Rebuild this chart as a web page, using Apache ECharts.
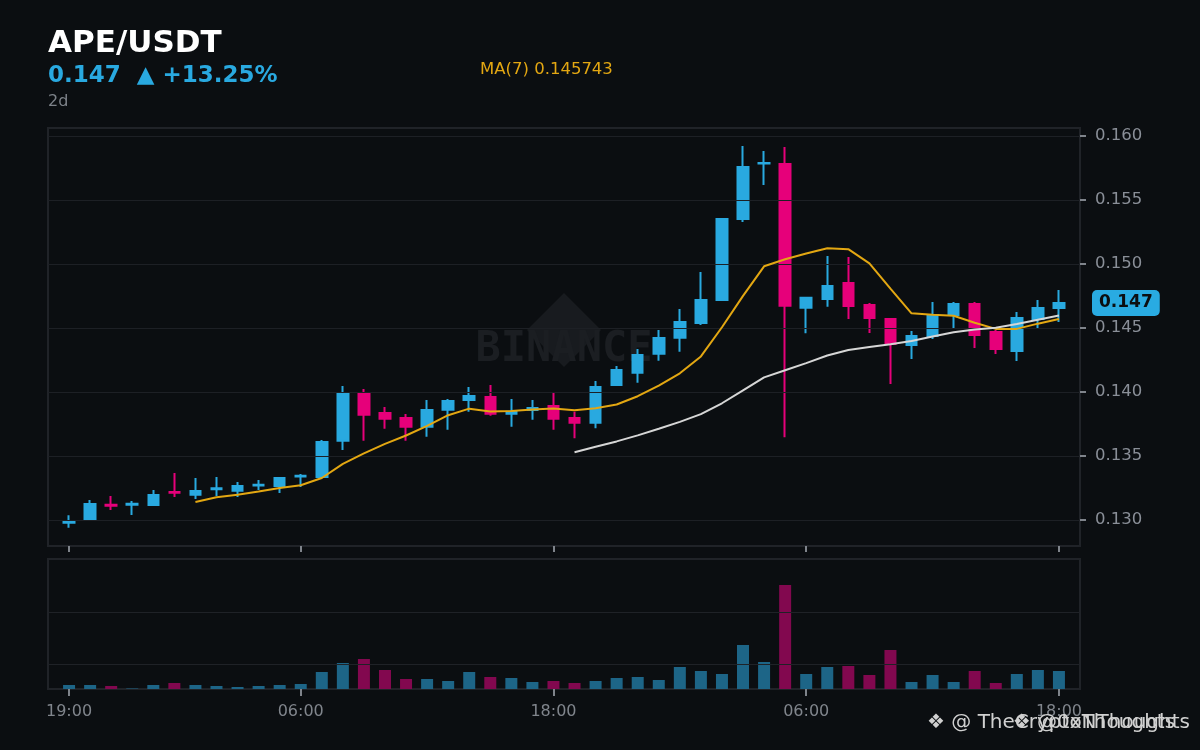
<!DOCTYPE html>
<html><head><meta charset="utf-8">
<script src="https://cdn.jsdelivr.net/npm/echarts@6/dist/echarts.min.js"></script>
<style>html,body{margin:0;padding:0;background:#0b0e11}#c{width:1200px;height:750px}</style>
</head><body><div id="c"></div>
<script>
// ---- data ----
const times = ['19:00','20:00','21:00','22:00','23:00','00:00','01:00','02:00','03:00','04:00','05:00','06:00',
  '07:00','08:00','09:00','10:00','11:00','12:00','13:00','14:00','15:00','16:00','17:00','18:00',
  '19:00','20:00','21:00','22:00','23:00','00:00','01:00','02:00','03:00','04:00','05:00','06:00',
  '07:00','08:00','09:00','10:00','11:00','12:00','13:00','14:00','15:00','16:00','17:00','18:00'];
const open = [0.12978,0.13000,0.13120,0.13120,0.13117,0.13219,0.13198,0.13240,0.13229,0.13270,0.13266,0.13340,
  0.13336,0.13620,0.13992,0.13836,0.13797,0.13729,0.13862,0.13938,0.13961,0.13830,0.13859,0.13891,
  0.13797,0.13760,0.14055,0.14151,0.14299,0.14424,0.14539,0.14719,0.15352,0.15785,0.15781,0.14659,
  0.14727,0.14852,0.14680,0.14570,0.14367,0.14438,0.14602,0.14688,0.14469,0.14320,0.14570,0.14656];
const close = [0.12990,0.13125,0.13112,0.13126,0.13195,0.13213,0.13227,0.13248,0.13266,0.13276,0.13328,0.13345,
  0.13609,0.13992,0.13823,0.13791,0.13729,0.13859,0.13930,0.13969,0.13831,0.13845,0.13875,0.13791,
  0.13760,0.14039,0.14172,0.14289,0.14422,0.14547,0.14719,0.15352,0.15758,0.15790,0.14674,0.14737,
  0.14828,0.14672,0.14578,0.14375,0.14438,0.14594,0.14688,0.14445,0.14336,0.14578,0.14656,0.14695];
const low = [0.12940,0.12992,0.13078,0.13039,0.13109,0.13180,0.13164,0.13188,0.13180,0.13234,0.13211,0.13258,
  0.13328,0.13547,0.13620,0.13713,0.13620,0.13651,0.13706,0.13846,0.13815,0.13729,0.13784,0.13706,
  0.13638,0.13716,0.14047,0.14073,0.14245,0.14315,0.14523,0.14711,0.15328,0.15617,0.13646,0.14459,
  0.14666,0.14570,0.14461,0.14063,0.14258,0.14414,0.14500,0.14344,0.14297,0.14242,0.14492,0.14547];
const high = [0.13037,0.13156,0.13188,0.13148,0.13234,0.13367,0.13328,0.13336,0.13297,0.13313,0.13336,0.13359,
  0.13625,0.14047,0.14023,0.13883,0.13828,0.13938,0.13945,0.14039,0.14055,0.13945,0.13938,0.13992,
  0.13846,0.14086,0.14203,0.14336,0.14484,0.14648,0.14938,0.15359,0.15922,0.15883,0.15914,0.14745,
  0.15063,0.15055,0.14695,0.14578,0.14477,0.14703,0.14703,0.14703,0.14484,0.14625,0.14719,0.14797];
const ma7 = ['-','-','-','-','-','-',0.13141,0.13178,0.13198,0.13222,0.13250,0.13272,
  0.13328,0.13438,0.13520,0.13595,0.13660,0.13735,0.13819,0.13870,0.13847,0.13851,0.13863,0.13871,
  0.13857,0.13873,0.13902,0.13967,0.14050,0.14146,0.14278,0.14506,0.14751,0.14982,0.15037,0.15082,
  0.15123,0.15116,0.15005,0.14808,0.14615,0.14603,0.14596,0.14541,0.14493,0.14493,0.14534,0.14570];
const ma25 = ['-','-','-','-','-','-','-','-','-','-','-','-',
  '-','-','-','-','-','-','-','-','-','-','-','-',
  0.13530,0.13572,0.13614,0.13661,0.13713,0.13767,0.13827,0.13912,0.14013,0.14114,0.14170,0.14226,
  0.14285,0.14328,0.14351,0.14373,0.14399,0.14434,0.14467,0.14488,0.14502,0.14532,0.14565,0.14597];
const volume = [4,4,3,0.5,4,6,4,3,2,3,4,5,
  17,26,30,19,10,10,8,17,12,11,7,8,
  6,8,11,12,9,22,18,15,44,27,104,15,
  22,23,14,39,7,14,7,18,6,15,19,18];
const yTicks = [0.130,0.135,0.140,0.145,0.150,0.155,0.160];
const labelIdx = [0,11,23,35,47];
const volGridLines = [25,77];
const lastPrice = close[close.length-1];

// ---- build ----
const UP = '#29a9e0', DOWN = '#e6007a';
const FONT = '"DejaVu Sans", sans-serif';
const cats = [''].concat(times, ['']);
const pad = a => ['-'].concat(a, ['-']);
const candleData = [['-','-','-','-']].concat(times.map((t,i)=>[open[i],close[i],low[i],high[i]]), [['-','-','-','-']]);
const volData = pad(volume.map((v,i)=>({value:v, itemStyle:{color: close[i]>=open[i] ? '#1d6587' : '#82084f'}})));
const tickFn = (idx) => labelIdx.indexOf(idx-1) >= 0;

const chart = echarts.init(document.getElementById('c'));
chart.setOption({
  backgroundColor:'#0b0e11',
  animation:false,
  textStyle:{fontFamily:FONT},
  grid:[
    {left:48, right:120, top:128, height:418, show:true, borderColor:'#202328', borderWidth:2, backgroundColor:'transparent'},
    {left:48, right:120, top:559, height:130, show:true, borderColor:'#202328', borderWidth:2, backgroundColor:'transparent'}
  ],
  xAxis:[
    {type:'category', gridIndex:0, data:cats, boundaryGap:false,
     axisLine:{show:false}, axisTick:{show:true, interval:tickFn, length:6, lineStyle:{color:'#7f848b', width:2}},
     axisLabel:{show:false}, splitLine:{show:false}},
    {type:'category', gridIndex:1, data:cats, boundaryGap:false,
     axisLine:{show:false}, axisTick:{show:true, interval:tickFn, length:7, lineStyle:{color:'#7f848b', width:2}},
     axisLabel:{show:true, interval:tickFn, color:'#80858c', fontSize:16, margin:15, fontFamily:FONT}, splitLine:{show:false}}
  ],
  yAxis:[
    {type:'value', gridIndex:0, position:'right', min:0.127969, max:0.160625, z:3,
     axisLine:{show:false},
     axisTick:{show:true, length:6, customValues:yTicks, lineStyle:{color:'#7f848b', width:2}},
     axisLabel:{color:'#8a8f98', fontSize:16.5, margin:15, fontFamily:FONT, customValues:yTicks,
       formatter:v => (Math.abs(v*200-Math.round(v*200))<1e-6 ? v.toFixed(3) : '')},
     splitLine:{show:true, lineStyle:{color:'#1d2025', width:1}}},
    {type:'value', gridIndex:1, min:0, max:130,
     axisLine:{show:false}, axisTick:{show:false}, axisLabel:{show:false}, splitLine:{show:false}}
  ],
  graphic:[
    {type:'polygon', z:1, silent:true, shape:{points:[[564,293],[601,330],[564,367],[527,330]]}, style:{fill:'#181b1f'}},
    {type:'text', z:1, silent:true, x:564, y:350, style:{text:'BINANCE', font:'bold 42px "DejaVu Sans Mono"', fill:'#1b1e22', textAlign:'center', textVerticalAlign:'middle'}},
    {type:'text', z:10, x:48, y:44, style:{text:'APE/USDT', font:'bold 31px "DejaVu Sans"', fill:'#ffffff', textVerticalAlign:'middle'}},
    {type:'text', z:10, x:48, y:76, style:{text:'0.147  \u25B2 +13.25%', font:'bold 23px "DejaVu Sans"', fill:'#29a9e0', textVerticalAlign:'middle'}},
    {type:'text', z:10, x:48, y:102, style:{text:'2d', font:'16px "DejaVu Sans"', fill:'#7d8289', textVerticalAlign:'middle'}},
    {type:'text', z:10, x:480, y:70, style:{text:'MA(7) 0.145743', font:'16.5px "DejaVu Sans"', fill:'#e3a712', textVerticalAlign:'middle'}},
    {type:'text', z:10, x:927, y:723, style:{text:'\u2756 @ TheCryptoThoughts', font:'20px "DejaVu Sans"', fill:'#d0d0d0', textVerticalAlign:'middle'}},
    {type:'text', z:10, x:1190, y:723, style:{text:'\u2756 @0xNThoughts', font:'20px "DejaVu Sans"', fill:'#d0d0d0', textAlign:'right', textVerticalAlign:'middle'}}
  ],
  series:[
    {type:'candlestick', name:'APE/USDT', xAxisIndex:0, yAxisIndex:0, data:candleData, barWidth:11, z:2,
     itemStyle:{color:UP, color0:DOWN, borderColor:UP, borderColor0:DOWN, borderWidth:2}},
    {type:'line', name:'MA7', xAxisIndex:0, yAxisIndex:0, data:pad(ma7), symbol:'none', z:4,
     lineStyle:{color:'#e3a712', width:2}, itemStyle:{color:'#e3a712'}},
    {type:'line', name:'MA25', xAxisIndex:0, yAxisIndex:0, data:pad(ma25), symbol:'none', z:4,
     lineStyle:{color:'#d6d6d6', width:2}, itemStyle:{color:'#d6d6d6'},
     markLine:{silent:true, symbol:'none', animation:false, precision:6,
       lineStyle:{color:'rgba(0,0,0,0)', width:1, type:'solid'},
       label:{show:true, position:'end', distance:12, formatter:lastPrice.toFixed(3),
         backgroundColor:'#29abe2', color:'#0b0e11', fontWeight:'bold', fontSize:17, fontFamily:FONT,
         padding:[5,7,4,7], borderRadius:5},
       data:[{yAxis:lastPrice}]}},
    {type:'bar', name:'Volume', xAxisIndex:1, yAxisIndex:1, data:volData, barWidth:12,
     markLine:{silent:true, symbol:'none', animation:false, label:{show:false}, precision:3,
       lineStyle:{color:'#1f2227', width:1, type:'solid'},
       data:volGridLines.map(v=>({yAxis:v}))}}
  ]
});
</script>
</body></html>
